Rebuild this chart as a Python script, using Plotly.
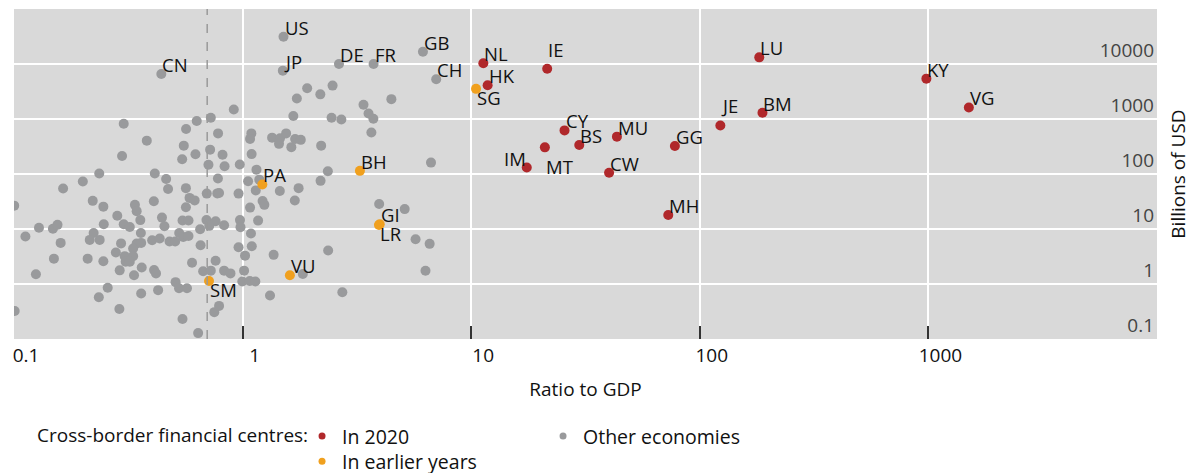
import numpy as np
import plotly.graph_objects as go

# ---------------- data ----------------
# Other economies, unlabelled (ratio to GDP, billions of USD)
other_ratio = [0.302, 0.381, 0.297, 0.236, 0.413, 0.463, 0.200, 0.566, 0.630, 0.726,
               0.915, 0.553, 0.781, 0.721, 0.622, 0.544, 0.817, 0.709, 0.834, 0.972,
               0.780, 1.092, 1.078, 1.095, 1.150, 1.057, 1.183, 1.346, 1.458, 1.443,
               1.550, 1.634, 1.697, 1.797, 1.667, 1.727, 1.916, 2.188, 2.475, 2.450,
               2.704, 2.206, 2.360, 2.193, 3.38, 3.556, 3.733, 3.659, 4.475, 1.758,
               1.142, 1.455, 0.697, 0.775, 0.789, 0.960, 1.223, 1.245, 1.692, 1.078,
               3.957, 5.117, 0.695, 0.762, 0.974, 1.169, 0.164, 0.472, 0.565, 0.221,
               0.246, 0.1002, 0.409, 0.338, 0.344, 0.586, 0.617, 0.565, 0.283, 0.357,
               0.444, 0.546, 0.580, 0.247, 0.302, 0.321, 0.455, 0.1286, 0.148, 0.155,
               0.1122, 0.160, 0.223, 0.359, 0.402, 0.434, 0.479, 0.507, 0.528, 0.550,
               0.580, 0.652, 0.715, 0.655, 0.294, 0.344, 0.360, 0.332, 0.2145, 0.237,
               0.279, 0.305, 0.332, 0.308, 0.321, 0.210, 0.246, 0.1495, 0.1247, 0.290,
               0.335, 0.362, 0.410, 0.418, 0.601, 0.672, 0.726, 0.509, 0.527, 0.571,
               0.427, 0.360, 0.257, 0.235, 0.289, 0.1007, 0.546, 0.639, 0.752, 0.789,
               0.830, 0.979, 1.088, 0.960, 1.097, 1.025, 1.367, 2.367, 2.731, 1.318,
               0.762, 0.830, 0.885, 1.015, 0.997, 1.075, 1.137, 1.834, 5.71, 6.58,
               6.31, 6.67]
other_usd = [820, 404, 213, 102, 102, 81, 73, 658, 918, 1054,
             1489, 328, 547, 277, 228, 185, 224, 147, 138, 149,
             83, 547, 435, 230, 120, 74, 79, 458, 445, 353,
             547, 308, 434, 418, 1130, 2355, 3630, 2805, 4050, 1054,
             977, 328, 112, 75, 1811, 1255, 1010, 569, 2297, 55.3,
             50.3, 49.2, 44.0, 44.4, 45.0, 44.0, 32.2, 27.5, 32.9, 24.5,
             28.4, 23.0, 14.6, 13.8, 14.5, 14.2, 54.6, 53.5, 55.3, 32.5,
             25.5, 26.6, 32.0, 27.5, 21.1, 36.8, 33.1, 24.9, 17.4, 14.5,
             16.1, 14.3, 14.3, 12.2, 12.2, 10.9, 11.2, 10.5, 10.1, 11.9,
             7.33, 5.59, 8.48, 8.48, 6.25, 6.74, 5.93, 5.93, 8.45, 7.18,
             7.48, 9.9, 11.4, 5.08, 5.47, 5.45, 5.59, 4.43, 6.34, 6.34,
             3.75, 3.21, 3.21, 2.53, 2.53, 2.89, 2.59, 2.89, 1.50, 1.77,
             1.44, 2.00, 1.79, 1.56, 2.43, 1.70, 1.75, 1.08, 0.836, 0.836,
             0.773, 0.673, 0.853, 0.574, 0.352, 0.322, 0.231, 0.128, 0.308, 0.400,
             11.7, 10.8, 8.27, 4.67, 4.87, 3.28, 3.39, 4.07, 0.707, 0.619,
             2.64, 1.75, 1.56, 1.75, 1.11, 1.13, 1.11, 1.52, 6.52, 5.37,
             1.74, 161]

# Other economies, labelled
named_other_codes = ["US", "JP", "CN", "DE", "FR", "GB", "CH"]
named_other_ratio = [1.51, 1.50, 0.441, 2.64, 3.74, 6.15, 7.03]
named_other_usd = [31200, 7570, 6590, 10000, 10000, 16700, 5280]

# Cross-border financial centres in 2020
fc2020_codes = ["NL", "IE", "LU", "HK", "KY", "VG", "JE", "BM", "CY", "BS",
                "MU", "GG", "MT", "IM", "CW", "MH"]
fc2020_ratio = [11.3, 21.5, 182, 11.8, 980, 1503, 123, 188, 25.6, 29.7,
                43.4, 77.8, 21.0, 17.5, 40.1, 72.8]
fc2020_usd = [10300, 8220, 13200, 4110, 5420, 1620, 764, 1297, 621, 337,
              478, 324, 305, 131, 105, 18.0]

# Cross-border financial centres in earlier years
fcearly_codes = ["SG", "BH", "PA", "GI", "LR", "VU", "SM"]
fcearly_ratio = [10.5, 3.26, 1.22, 3.98, 3.95, 1.61, 0.713]
fcearly_usd = [3530, 114, 64.6, 12.2, 11.8, 1.44, 1.13]

reference_ratio = 0.7  # dashed vertical line

x_tickvals = [0.1, 1, 10, 100, 1000]
x_ticktext = ["0.1", "1", "10", "100", "1000"]
y_tickvals = [0.1, 1, 10, 100, 1000, 10000]
y_ticktext = ["0.1", "1", "10", "100", "1000", "10000"]

legend_title = "Cross-border financial centres:"

# ---------------- style ----------------
RED = "#B0282B"
ORANGE = "#F0A01E"
GREY = "#999a9c"
FONT = "Open Sans"
TXT = "#111"
FS_TITLE = 19
FS_TICK = 19
FS_LABEL = 18.5
FS_LEG = 19.5
MS = 10

# label placement style per code
label_pos = {"SG": "br", "LR": "br", "SM": "br", "MT": "br_far",
             "IE": "tr_far", "JE": "tr_far", "IM": "tl"}
pos_style = {
    "tr": dict(xanchor="left", yanchor="bottom", xshift=-1, yshift=-5),
    "tr_far": dict(xanchor="left", yanchor="bottom", xshift=-1, yshift=5),
    "br": dict(xanchor="left", yanchor="top", xshift=-1, yshift=6),
    "br_far": dict(xanchor="left", yanchor="top", xshift=-1, yshift=-5),
    "tl": dict(xanchor="right", yanchor="bottom", xshift=1, yshift=-5),
}

fig = go.Figure()

fig.add_trace(go.Scatter(
    x=other_ratio + named_other_ratio, y=other_usd + named_other_usd,
    mode="markers", marker=dict(color=GREY, size=MS), showlegend=False,
    hoverinfo="skip"))
fig.add_trace(go.Scatter(
    x=fc2020_ratio, y=fc2020_usd, mode="markers",
    marker=dict(color=RED, size=MS), showlegend=False, hoverinfo="skip"))
fig.add_trace(go.Scatter(
    x=fcearly_ratio, y=fcearly_usd, mode="markers",
    marker=dict(color=ORANGE, size=MS), showlegend=False, hoverinfo="skip"))

# legend entries
fig.add_trace(go.Scatter(x=[None], y=[None], mode="markers", name="In 2020",
                         marker=dict(color=RED, size=7), legend="legend"))
fig.add_trace(go.Scatter(x=[None], y=[None], mode="markers", name="Other economies",
                         marker=dict(color=GREY, size=7), legend="legend"))
fig.add_trace(go.Scatter(x=[None], y=[None], mode="markers", name="In earlier years",
                         marker=dict(color=ORANGE, size=7), legend="legend2"))

# labels
annotations = []
for codes, xs, ys in [(named_other_codes, named_other_ratio, named_other_usd),
                      (fc2020_codes, fc2020_ratio, fc2020_usd),
                      (fcearly_codes, fcearly_ratio, fcearly_usd)]:
    for c, xv, yv in zip(codes, xs, ys):
        st = pos_style[label_pos.get(c, "tr")]
        annotations.append(dict(x=np.log10(xv), y=np.log10(yv), xref="x", yref="y",
                                text=c, showarrow=False,
                                font=dict(family=FONT, size=FS_LABEL, color=TXT), **st))

# legend title as text on the left of the legend rows
annotations.append(dict(x=0.0184, y=-0.291, xref="paper", yref="paper",
                        xanchor="left", yanchor="middle", showarrow=False,
                        text=legend_title,
                        font=dict(family=FONT, size=FS_TITLE, color=TXT)))

fig.add_shape(type="line", x0=reference_ratio, x1=reference_ratio, xref="x",
              y0=0, y1=1, yref="paper",
              line=dict(color="#9a9a9a", width=1.5, dash="dash"))

fig.update_layout(
    width=1195, height=465,
    margin=dict(l=6, r=46, t=1, b=134, autoexpand=False),
    paper_bgcolor="white", plot_bgcolor="#d9d9d9",
    font=dict(family=FONT, size=FS_TICK, color=TXT),
    annotations=annotations,
    xaxis=dict(type="log", range=[-1, 4], tickvals=x_tickvals, ticktext=x_ticktext,
               showgrid=True, gridcolor="white", gridwidth=2, zeroline=False,
               ticks="inside", ticklen=13, tickwidth=1.5, tickcolor="#333",
               ticklabelshift=12, ticklabelstandoff=3, showline=False,
               automargin=False, tickfont=dict(size=FS_TICK),
               title=dict(text="Ratio to GDP", standoff=15,
                          font=dict(size=FS_TITLE))),
    yaxis=dict(type="log", range=[-1, 5], side="right", tickvals=y_tickvals,
               ticktext=y_ticktext, ticklabelposition="inside top",
               showgrid=True, gridcolor="white", gridwidth=2, zeroline=False,
               ticks="", showline=False, automargin=False,
               tickfont=dict(size=FS_TICK),
               title=dict(text="Billions of USD", standoff=18,
                          font=dict(size=FS_TITLE))),
    legend=dict(orientation="h", x=0.252, y=-0.236, xanchor="left", yanchor="top",
                entrywidth=196, itemwidth=30, bgcolor="rgba(0,0,0,0)",
                font=dict(family=FONT, size=FS_LEG)),
    legend2=dict(orientation="h", x=0.252, y=-0.312, xanchor="left", yanchor="top",
                 itemwidth=30, bgcolor="rgba(0,0,0,0)",
                 font=dict(family=FONT, size=FS_LEG)),
)

fig.write_html("out.html")
